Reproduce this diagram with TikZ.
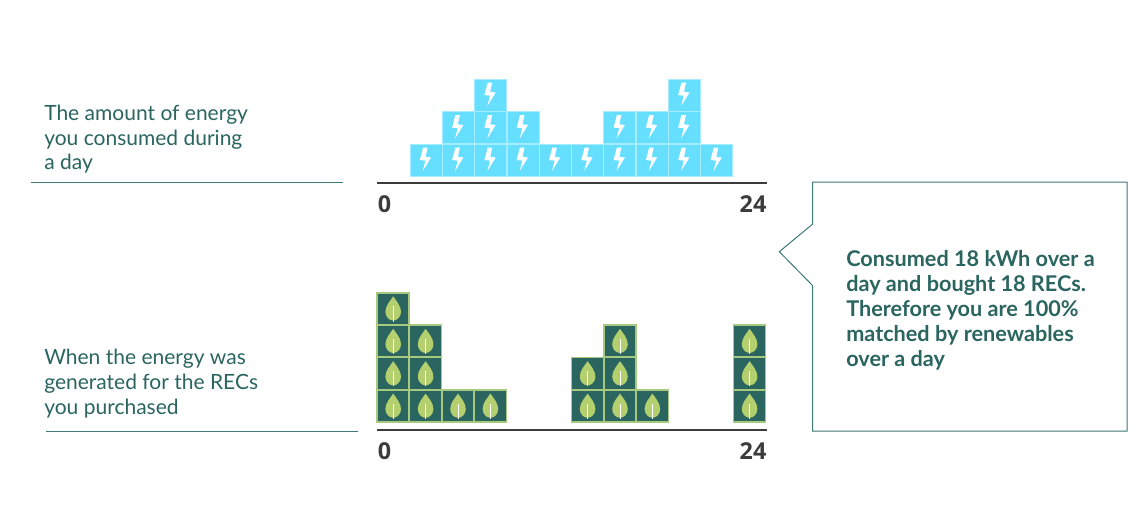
\documentclass[tikz,border=0pt]{standalone}
\usepackage{fontspec}
\setmainfont{Lato}
\newfontfamily\numfont{Open Sans}
\definecolor{teal}{HTML}{2A6560}
\definecolor{tealline}{HTML}{3F7A76}
\definecolor{cyanfill}{HTML}{66DFFF}
\definecolor{cyanedge}{HTML}{A5ECFF}
\definecolor{leaf}{HTML}{B4CF6E}
\definecolor{leafedge}{HTML}{A6C97F}
\definecolor{axis}{HTML}{3C3C3C}
\tikzset{
  px/.style={x=0.75pt,y=-0.75pt},
  cell/.style={minimum size=24pt,inner sep=0pt,outer sep=0pt,anchor=north west},
  boltcell/.style={cell,fill=cyanfill,draw=cyanedge,line width=0.5pt},
  leafcell/.style={cell,fill=teal,draw=leafedge,line width=1.1pt},
  lbl/.style={anchor=north west,align=left,inner sep=0pt,text=teal,font=\fontsize{15.75pt}{18.6pt}\selectfont},
  num/.style={inner sep=0pt,text=axis,font=\numfont\bfseries\fontsize{17.5pt}{18pt}\selectfont},
  under/.style={draw=tealline,line width=0.75pt},
  axisline/.style={draw=axis,line width=1.5pt},
  bolt/.pic={\fill[white] (-2.9,-12.5)--(1.6,-12.5)--(-0.4,-3.2)--(5.1,-2.5)--(-3.2,11)--(-0.6,0.6)--(-6.2,0.1)--cycle;},
  leafpic/.pic={
    \fill[leaf] (0,-12.4) .. controls (-3,-8) and (-7.8,-3) .. (-7.8,3)
      .. controls (-7.8,8) and (-4,11.8) .. (0,11.8)
      .. controls (4,11.8) and (7.8,8) .. (7.8,3)
      .. controls (7.8,-3) and (3,-8) .. (0,-12.4) -- cycle;
    \draw[white,line width=0.75pt] (0,-2.5)--(0,12.7);}
}
\begin{document}
\begin{tikzpicture}[px]
\useasboundingbox (0,0) rectangle (1142,514);
\fill[white] (0,0) rectangle (1142,514);
% top blocks: column / row
\foreach \c/\r [count=\k] in {0/0,1/0,2/0,3/0,4/0,5/0,6/0,7/0,8/0,9/0,1/1,2/1,3/1,6/1,7/1,8/1,2/2,8/2}{
  \node[boltcell] (b\k) at ({410+32.3*\c},{144-32.5*\r}) {};
  \pic at (b\k.center) {bolt};
}
% bottom blocks: column / row
\foreach \c/\r [count=\k] in {0/0,1/0,2/0,3/0,6/0,7/0,8/0,11/0,0/1,1/1,6/1,7/1,11/1,0/2,1/2,7/2,11/2,0/3}{
  \node[leafcell] (g\k) at ({377.2+32.4*\c},{390-32.4*\r}) {};
  \pic at (g\k.center) {leafpic};
}
% axes
\coordinate (a1) at (377,183); \coordinate (a2) at (767,183);
\coordinate (a3) at (377,430); \coordinate (a4) at (767,430);
\draw[axisline] (a1)--(a2);
\draw[axisline] (a3)--(a4);
\node[num] (n1) at (384.5,204) {0};
\node[num] (n2) at (753,204) {24};
\node[num] (n3) at (384.5,451) {0};
\node[num] (n4) at (753,451) {24};
% left labels
\node[lbl] (t1) at (44,104.5) {The amount of energy\\you consumed during\\a day};
\node[lbl] (t2) at (44,349) {When the energy was\\generated for the RECs\\you purchased};
\coordinate (u1) at (31,182.7); \coordinate (u2) at (343,182.7);
\coordinate (u3) at (46,431.7); \coordinate (u4) at (358,431.7);
\draw[under] (u1)--(u2);
\draw[under] (u3)--(u4);
% callout
\draw[under,line join=miter] (812.7,182)--(1127,182)--(1127,431)--(812.7,431)--(812.7,285.7)--(779.3,251.7)--(812.7,224)--cycle;
\node[lbl,font=\bfseries\fontsize{16.25pt}{18.75pt}\selectfont] (t3) at (846,250) {Consumed 18 kWh over a\\day and bought 18 RECs.\\Therefore you are 100\%\\matched by renewables\\over a day};
\end{tikzpicture}
\end{document}
